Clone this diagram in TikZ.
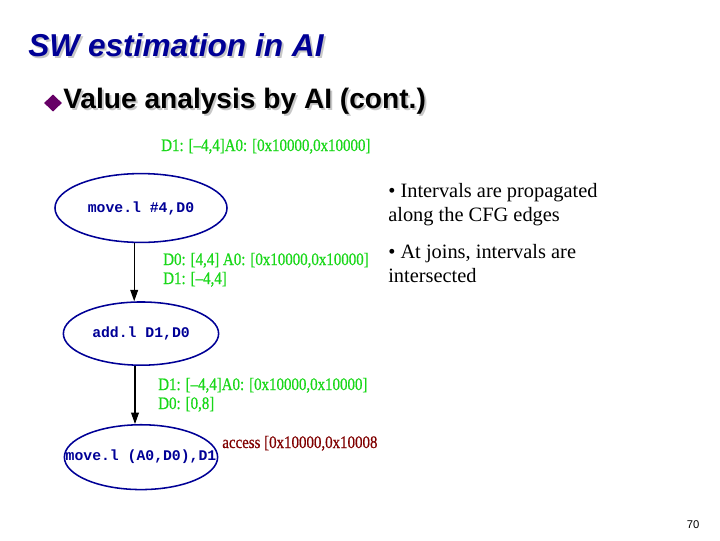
\documentclass[tikz,border=0pt]{standalone}
\usepackage{fontspec}
\setmainfont{Liberation Serif}
\setsansfont{Liberation Sans}
\setmonofont{Liberation Mono}
\newfontfamily\narrowserif[FakeStretch=0.85, FakeBold=0.6]{Liberation Serif}
\usetikzlibrary{positioning, shapes.geometric, arrows.meta}

\definecolor{titleblue}{RGB}{0,0,150}
\definecolor{codeblue}{RGB}{0,0,150}
\definecolor{intgreen}{RGB}{25,215,25}
\definecolor{accred}{RGB}{128,0,0}
\definecolor{bulletpurple}{RGB}{102,0,102}

\begin{document}
\begin{tikzpicture}[
  x=0.025cm, y=-0.025cm,
  heading/.style={anchor=base west, inner sep=0pt, font=\sffamily\bfseries\itshape\fontsize{22.5}{26}\selectfont},
  subhead/.style={anchor=base west, inner sep=0pt, font=\sffamily\bfseries\fontsize{20}{24}\selectfont},
  instr/.style={ellipse, draw=codeblue, line width=1.1pt, inner sep=0pt, text=codeblue,
    font=\ttfamily\bfseries\fontsize{10.5}{12}\selectfont},
  interval/.style={anchor=base west, align=left, inner sep=0pt, text=intgreen,
    font=\narrowserif\fontsize{12.5}{13.5}\selectfont},
  remark/.style={anchor=base west, align=left, inner sep=0pt, font=\fontsize{14.5}{17}\selectfont},
  arrow/.style={-{Triangle[length=8pt,width=5.5pt]}, thick},
  node distance=1.45cm
]
\useasboundingbox (0,0) rectangle (720,540);

% Title and bullet
\node[heading, text=black!22] (titleshadow) at (30,58) {SW estimation in AI};
\node[heading, text=titleblue] (title) at (28,56) {SW estimation in AI};
\node[diamond, fill=bulletpurple, inner sep=0pt, minimum width=0.45cm, minimum height=0.43cm] (bullet) at (53,103) {};
\node[subhead, text=black!22] (subshadow) at (65,110) {Value analysis by AI (cont.)};
\node[subhead] (sub) at (63,108) {Value analysis by AI (cont.)};

% Nodes
\node[instr, minimum width=4.3cm, minimum height=1.72cm] (move) at (141,208) {\makebox[0pt]{move.l \#4,D0}};
\node[instr, minimum width=3.88cm, minimum height=1.58cm, below=of move] (add) {\makebox[0pt]{add.l D1,D0}};
\node[instr, minimum width=3.83cm, minimum height=1.62cm, below=of add] (load) {\makebox[0pt]{move.l (A0,D0),D1}};

% Intervals (multi-line nodes sit on their last baseline)
\node[interval] (in1) at (161,151) {D1: [–4,4]A0: [0x10000,0x10000]};
\node[interval] (in2) at (163,284) {D0: [4,4]\ A0: [0x10000,0x10000]\\D1: [–4,4]};
\node[interval] (in3) at (158,409) {D1: [–4,4]A0: [0x10000,0x10000]\\D0: [0,8]};
\node[anchor=base west, inner sep=0pt, text=accred, font=\narrowserif\fontsize{12.5}{13.5}\selectfont] (access) at (222,448) {access [0x10000,0x10008};

% Remarks
\node[remark] (prop) at (388,221) {\textbullet\ Intervals are propagated\\along the CFG edges};
\node[remark] (joins) at (388,282) {\textbullet\ At joins, intervals are\\intersected};
\node[anchor=center, font=\sffamily\fontsize{8}{10}\selectfont] (page) at (693,525) {70};

% Arrows
\draw[arrow] ([xshift=-0.17cm]move.south) -- ([xshift=-0.17cm]move.south |- add.north);
\draw[arrow] ([xshift=-0.15cm]add.south) -- ([xshift=-0.15cm]add.south |- load.north);

\end{tikzpicture}
\end{document}
